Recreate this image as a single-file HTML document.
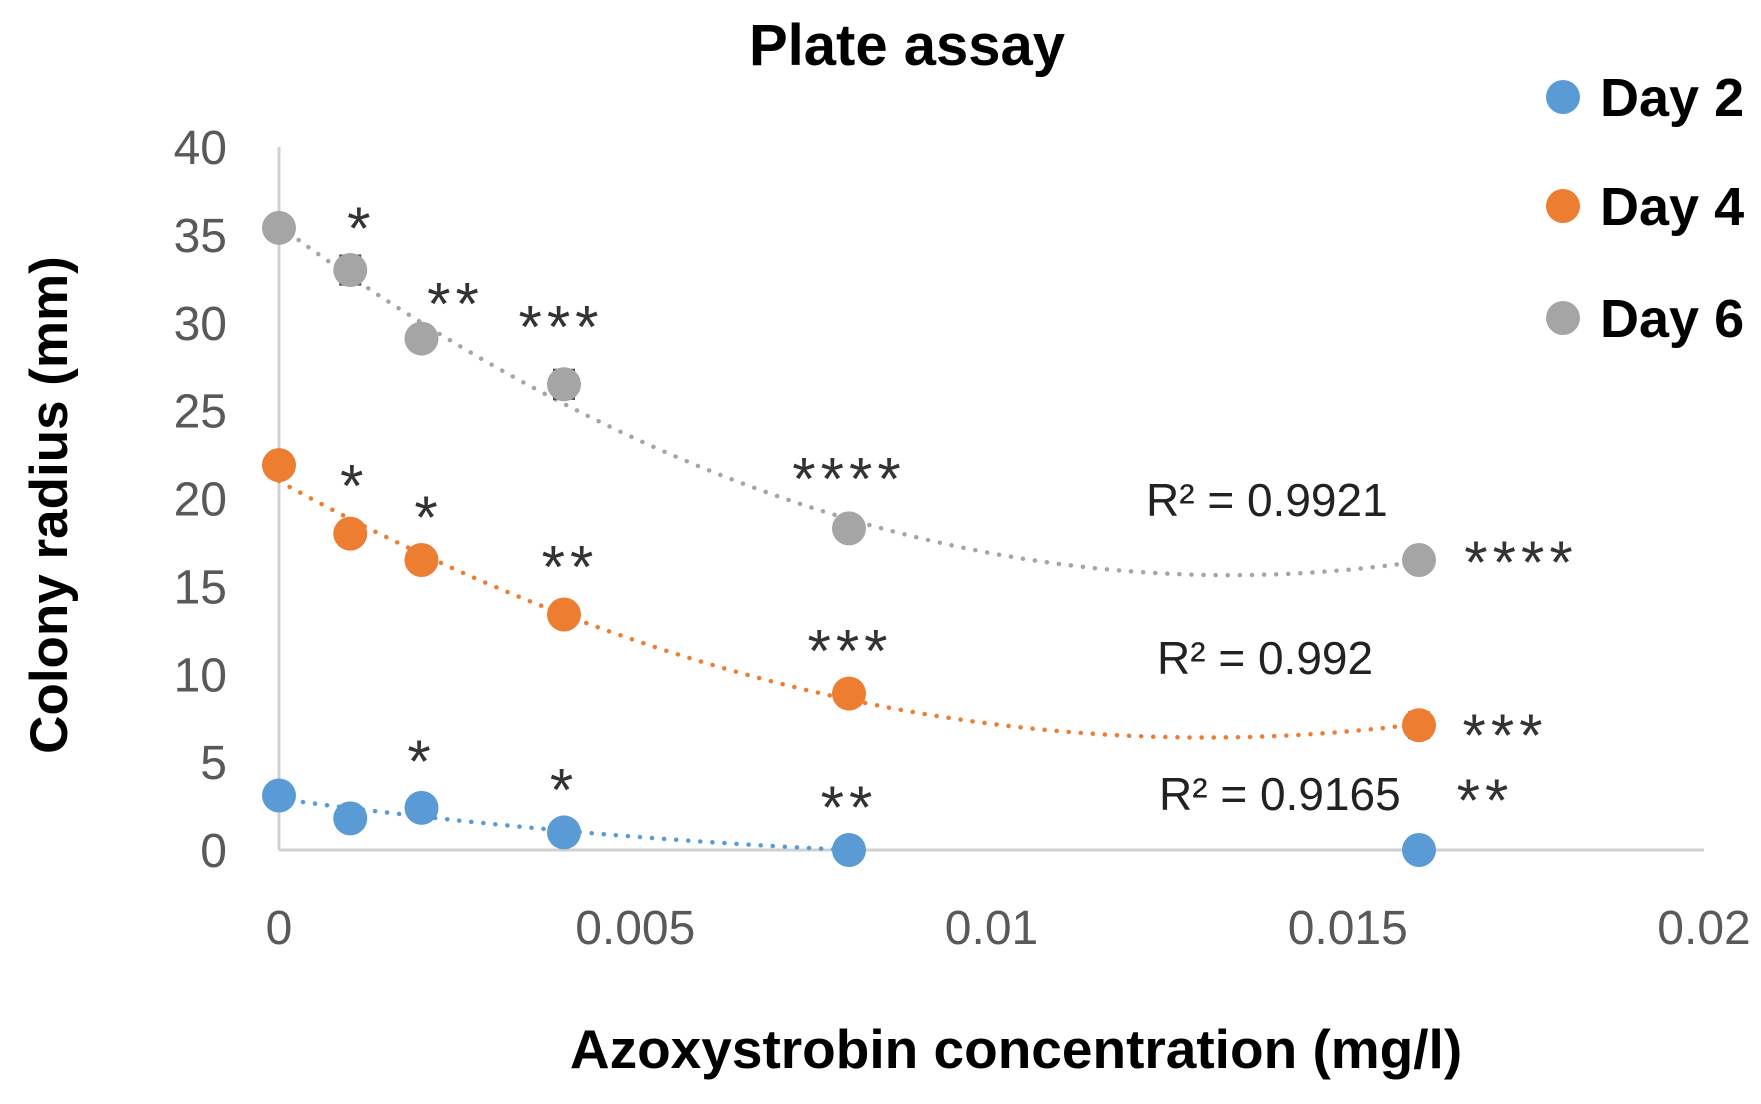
<!DOCTYPE html>
<html><head><meta charset="utf-8"><style>
body{margin:0;background:#fff}
svg{display:block;font-family:"Liberation Sans",sans-serif}
</style></head><body>
<svg id="chart" width="1761" height="1104" viewBox="0 0 1761 1104" xmlns="http://www.w3.org/2000/svg">
<text x="907" y="65" font-size="58" font-weight="bold" text-anchor="middle" fill="#000">Plate assay</text>
<g id="axes"></g>
<g id="marks"></g>
<text transform="translate(67,505) rotate(-90)" font-size="53" font-weight="bold" text-anchor="middle" fill="#000">Colony radius (mm)</text>
<text x="1016" y="1068" font-size="55" font-weight="bold" text-anchor="middle" fill="#000">Azoxystrobin concentration (mg/l)</text>
<g>
<circle cx="1563" cy="97" r="17" fill="#5b9bd5"/>
<text x="1600" y="116" font-size="54" font-weight="bold">Day 2</text>
<circle cx="1563" cy="206" r="17" fill="#ed7d31"/>
<text x="1600" y="225" font-size="54" font-weight="bold">Day 4</text>
<circle cx="1563" cy="318" r="17" fill="#a5a5a5"/>
<text x="1600" y="337" font-size="54" font-weight="bold">Day 6</text>
</g>
<text x="1146" y="516" font-size="46" fill="#222">R² = 0.9921</text>
<text x="1157" y="674" font-size="46" fill="#222">R² = 0.992</text>
<text x="1159" y="810" font-size="46" fill="#222">R² = 0.9165</text>
</svg>
<script>
const concentrations=[0,0.001,0.002,0.004,0.008,0.016];
const day2=[3.1,1.8,2.4,1.0,0,0];
const day4=[21.9,18.0,16.5,13.4,8.9,7.1];
const day6=[35.4,33.0,29.1,26.5,18.3,16.5];
const errDay6=[0.3,0.8,0.4,0.8,0.3,0.4];
const errDay4=[0.4,0.6,0.4,0.6,0.3,0.7];
const yTicks=[0,5,10,15,20,25,30,35,40];
const xTicks=[0,0.005,0.01,0.015,0.02];
const xTickLabels=["0","0.005","0.01","0.015","0.02"];
const sigDay6=["*","**","***","****","****"];
const sigDay4=["*","*","**","***","***"];
const sigDay2=["*","*","**","**"];
const sigIdxDay6=[1,2,3,4,5];
const sigIdxDay4=[1,2,3,4,5];
const sigIdxDay2=[2,3,4,5];
const NS="http://www.w3.org/2000/svg";
const X0=279,X1=1704,Y0=850,Y1=147;
const xs=v=>X0+(v/0.02)*(X1-X0);
const ys=v=>Y0-(v/40)*(Y0-Y1);
function mk(t,a,p){const e=document.createElementNS(NS,t);for(const k in a)e.setAttribute(k,a[k]);p.appendChild(e);return e;}
const axes=document.getElementById('axes'),marks=document.getElementById('marks');
const ya=mk('line',{x1:X0,y1:Y1,x2:X0,y2:Y0,stroke:'#d0d0d0','stroke-width':3},axes);

const xa=mk('line',{x1:X0,y1:Y0,x2:X1,y2:Y0,stroke:'#d0d0d0','stroke-width':3},axes);

yTicks.forEach(v=>{const t=mk('text',{x:227,y:ys(v)+17,'font-size':48,'text-anchor':'end',fill:'#595959'},axes);t.textContent=v;
});
xTicks.forEach((v,i)=>{const t=mk('text',{x:xs(v),y:944,'font-size':48,'text-anchor':'middle',fill:'#595959'},axes);t.textContent=xTickLabels[i];
});
function quadFit(x,y){let n=x.length,s=[0,0,0,0,0],t=[0,0,0];for(let i=0;i<n;i++){let p=1;for(let k=0;k<5;k++){s[k]+=p;if(k<3)t[k]+=p*y[i];p*=x[i];}}
const M=[[s[0],s[1],s[2],t[0]],[s[1],s[2],s[3],t[1]],[s[2],s[3],s[4],t[2]]];
for(let i=0;i<3;i++){for(let j=i+1;j<3;j++){const f=M[j][i]/M[i][i];for(let k=i;k<4;k++)M[j][k]-=f*M[i][k];}}
const c=[0,0,0];for(let i=2;i>=0;i--){let v=M[i][3];for(let k=i+1;k<3;k++)v-=M[i][k]*c[k];c[i]=v/M[i][i];}return c;}
const series=[{name:'day6',d:day6,e:errDay6,c:'#a5a5a5',sig:sigDay6,idx:sigIdxDay6},{name:'day4',d:day4,e:errDay4,c:'#ed7d31',sig:sigDay4,idx:sigIdxDay4},{name:'day2',d:day2,e:null,c:'#5b9bd5',sig:sigDay2,idx:sigIdxDay2}];
const sigOff={day6:[[11,-55],[34,-48],[-3,-71],[0,-63],[102,-11]],day4:[[4,-61],[7,-56],[6,-61],[1,-56],[86,-3]],day2:[[0,-60],[0,-56],[0,-56],[66,-63]]};
series.forEach(s=>{
 const c=quadFit(concentrations,s.d);let segs=[],cur=[];
 for(let i=0;i<=300;i++){const x=0.016*i/300;const y=c[0]+c[1]*x+c[2]*x*x;
  if(y<0){if(cur.length)segs.push(cur);cur=[];continue;}
  cur.push(xs(x).toFixed(1)+','+ys(y).toFixed(1));}
 if(cur.length)segs.push(cur);
 segs.forEach(pts=>{if(pts.length<2)return;
  const tl=mk('polyline',{points:pts.join(' '),fill:'none',stroke:s.c,'stroke-width':4.5,'stroke-dasharray':'0.1 12','stroke-linecap':'round'},marks);
  });
 s.d.forEach((v,i)=>{
  if(s.e){const x=xs(concentrations[i]),e=s.e[i];
   const eb=mk('path',{d:`M${x-11},${ys(v+e)}h22M${x-11},${ys(v-e)}h22M${x},${ys(v+e)}V${ys(v-e)}`,stroke:'#444','stroke-width':3},marks);
   }
  const p=mk('circle',{cx:xs(concentrations[i]),cy:ys(v),r:17,fill:s.c},marks);
  
 });
 const off=sigOff[s.name];
 s.sig.forEach((lab,j)=>{const idx=s.idx[j],o=off[j];
  const t=mk('text',{x:xs(concentrations[idx])+o[0],y:ys(s.d[idx])+o[1]+34,'font-size':60,'text-anchor':'middle',fill:'#333','letter-spacing':5},marks);
  t.textContent=lab;});
});
</script>
</body></html>
